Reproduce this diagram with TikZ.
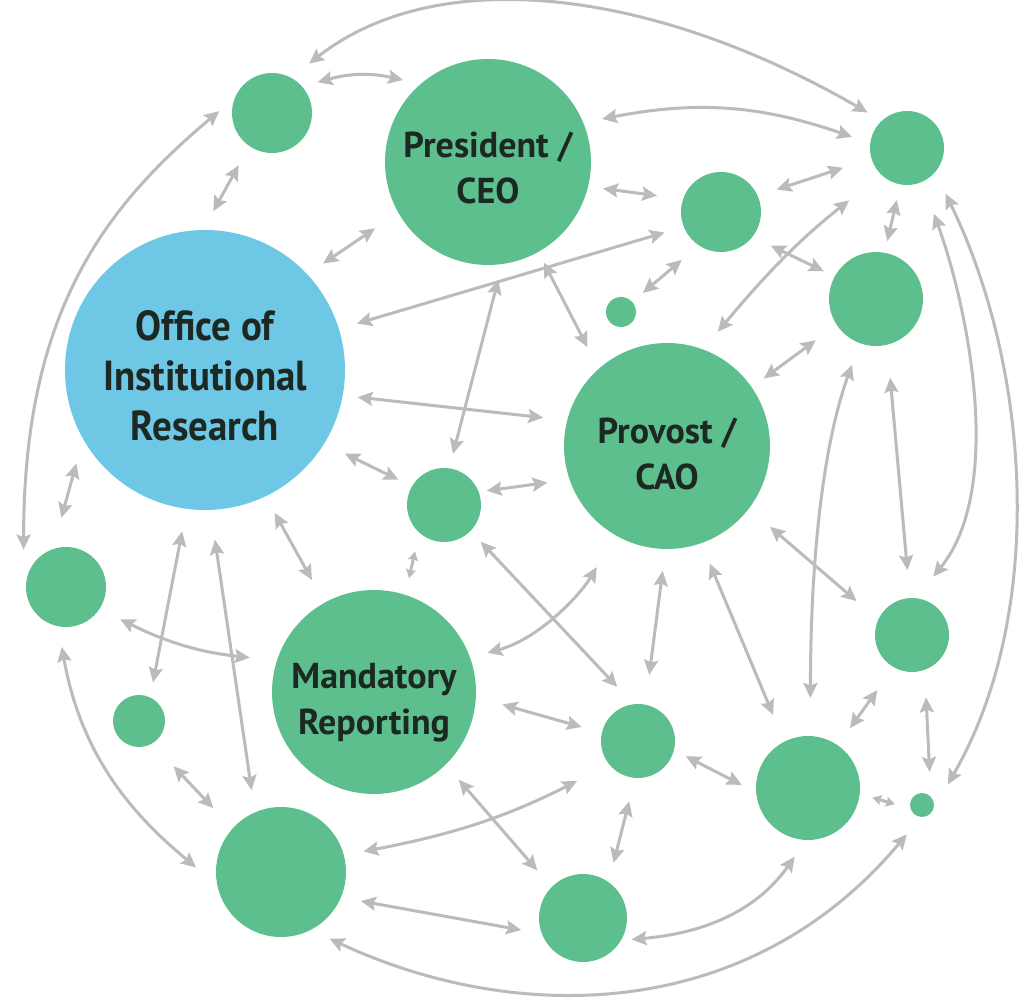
\documentclass[tikz,border=0pt]{standalone}
\usepackage{fontspec}
\setmainfont{PT Sans}
\usetikzlibrary{arrows.meta}
\definecolor{nodegreen}{RGB}{94,191,142}
\definecolor{nodeblue}{RGB}{110,199,228}
\definecolor{linkgray}{RGB}{187,187,187}
\definecolor{labelink}{RGB}{28,40,34}
\begin{document}
\begin{tikzpicture}[x=1pt,y=1pt,
  >={Stealth[length=15pt,width=14pt,inset=2.5pt]},
  bub/.style 2 args={circle, fill=nodegreen, draw=none, inner sep=0pt,
    minimum size=#1pt, outer sep=#2pt, text=labelink, align=center,
    font=\fontsize{36}{46}\selectfont\bfseries},
  hub/.style={fill=nodeblue,
    font=\fontsize{42}{50}\selectfont\bfseries\addfontfeature{FakeStretch=0.925}},
  link/.style={draw=linkgray, line width=3pt, <->},
  small tips/.style={>={Stealth[length=9pt,width=10pt,inset=1.5pt]}},
  sh/.style 2 args={shorten <=#1pt, shorten >=#2pt}]
\useasboundingbox (0,0) rectangle (1022,998);

% circles (a strut on the first line sets the label a little below the centre)
\node[bub={80}{15}]  (tl)    at (272,885) {};
\node[bub={206}{15}] (pres)  at (488,836) {\rule{0pt}{37pt}President /\\CEO};
\node[bub={74}{16}]  (tr)    at (907,850) {};
\node[bub={80}{20}]  (mt)    at (721,786) {};
\node[bub={30}{14}]  (tiny1) at (621,686) {};
\node[bub={94}{12}]  (ru)    at (876,699) {};
\node[bub={206}{22}] (prov)  at (667,552) {\rule{0pt}{42pt}Provost /\\CAO};
\node[bub={280}{19}, hub] (oir) at (205,628) {\rule{0pt}{42pt}Office of\\Institutional\\Research};
\node[bub={74}{15}]  (sm)    at (444,493) {};
\node[bub={80}{20}]  (lft)   at (66,411) {};
\node[bub={52}{15}]  (sl)    at (139,277) {};
\node[bub={204}{20}] (mand)  at (374,306) {\rule{0pt}{46pt}Mandatory\\Reporting};
\node[bub={130}{20}] (bl)    at (281,126) {};
\node[bub={88}{19}]  (bm)    at (583,80) {};
\node[bub={74}{21}]  (cm)    at (638,257) {};
\node[bub={104}{18}] (br)    at (808,210) {};
\node[bub={74}{25}]  (rm)    at (912,363) {};
\node[bub={24}{20}]  (tiny2) at (922,193) {};

% connectors
\draw[link, sh={7}{0}] (tl.55) .. controls +(38:170) and +(150:250) .. (tr.138);
\draw[link] (tl.34) to[bend left=14] (pres.136);
\draw[link, sh={7}{0}] (tl.237) -- (oir.87);
\draw[link, sh={0}{13}] (oir.42) -- (pres.210);
\draw[link, sh={-3}{-5}] (tl.180) .. controls +(220:150) and +(90:230) .. (lft.135);
\draw[link, sh={0}{10}] (oir.216) -- (lft.97);
\draw[link] (oir.17) -- (mt.200);
\draw[link] (pres.275) -- (sm.80);
\draw[link, sh={-3}{2}] (pres.299) -- (prov.129);
\draw[link, sh={-4}{2}] (oir.350) -- (prov.167);
\draw[link, sh={4}{0}] (oir.329) -- (sm.151);
\draw[link, sh={-7}{0}] (sm.17) -- (prov.197);
\draw[link, small tips, sh={3}{-3}] (sm.237) -- (mand.73);
\draw[link, sh={0}{6}] (pres.347) -- (mt.165);
\draw[link, sh={4}{3}] (pres.21) to[bend left=15] (tr.169);
\draw[link, sh={0}{14}] (mt.22) -- (tr.197);
\draw[link, sh={0}{2}] (tiny1.41) -- (mt.231);
\draw[link, sh={0}{25}] (prov.66) to[bend left=6] (tr.224);
\draw[link] (mt.326) -- (ru.152);
\draw[link] (tr.259) -- (ru.79);
\draw[link, sh={-7}{14}] (prov.35) -- (ru.214);
\draw[link, sh={7}{1}] (tr.312) .. controls +(296:200) and +(60:200) .. (tiny2.38);
\draw[link, sh={18}{0}] (tr.293) .. controls +(290:115) and +(51:115) .. (rm.70);
\draw[link, sh={21}{3}] (ru.282) -- (rm.94);
\draw[link, sh={11}{20}] (ru.250) .. controls +(250:100) and +(90:150) .. (br.88);
\draw[link, sh={6}{3}] (prov.322) -- (rm.149);
\draw[link, sh={0}{11}] (prov.290) -- (br.116);
\draw[link, sh={0}{9}] (prov.268) -- (cm.80);
\draw[link, sh={-2}{15}] (mand.19) .. controls +(15:50) and +(239:50) .. (prov.240);
\draw[link] (sm.315) -- (cm.111);
\draw[link, sh={7}{0}] (mand.355) -- (cm.166);
\draw[link, sh={-8}{-4}] (cm.341) -- (br.176);
\draw[link, sh={3}{3}] (br.55) -- (rm.238);
\draw[link, sh={2}{2}] (rm.283) -- (tiny2.76);
\draw[link, small tips, sh={-5}{-5}] (br.351) -- (tiny2.176);
\draw[link, sh={-3}{1}] (bl.307) .. controls +(-25:200) and +(230:250) .. (tiny2.243);
\draw[link, sh={-11}{0}] (bm.341) .. controls +(5:70) and +(235:60) .. (br.259);
\draw[link] (bl.340) -- (bm.191);
\draw[link, sh={0}{15}] (bl.14) to[bend right=8] (cm.215);
\draw[link, sh={0}{3}] (mand.314) -- (bm.134);
\draw[link, sh={3}{0}] (cm.262) -- (bm.61);
\draw[link] (lft.266) .. controls +(280:120) and +(140:70) .. (bl.177);
\draw[link, sh={16}{8}] (sl.305) -- (bl.137);
\draw[link, sh={11}{2}] (oir.273) -- (bl.110);
\draw[link, sh={4}{0}] (oir.262) -- (sl.70);
\draw[link, sh={3}{7}] (lft.329) to[bend right=10] (mand.164);
\draw[link, sh={0}{6}] (oir.296) -- (mand.119);
\end{tikzpicture}
\end{document}
